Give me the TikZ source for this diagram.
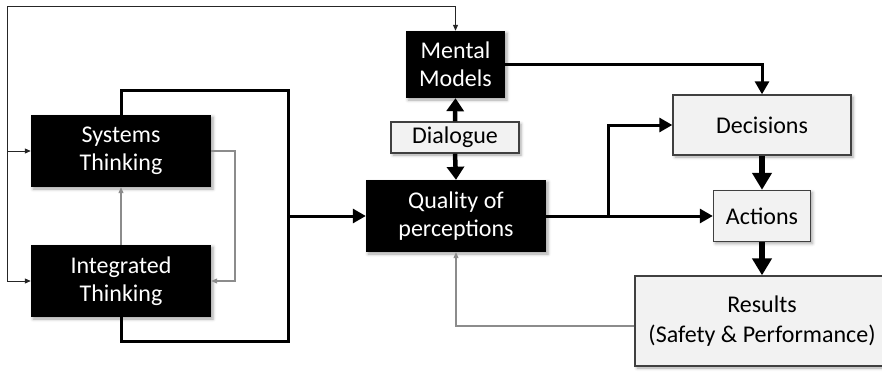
\documentclass[tikz,border=0pt]{standalone}
\usepackage{fontspec}
\setmainfont{Carlito}
\usetikzlibrary{arrows.meta,shadows.blur}

\begin{document}
\begin{tikzpicture}[x=1pt,y=-1pt,
  box/.style={rectangle,inner sep=0pt,align=center,
    font=\fontsize{24}{28}\selectfont,
    blur shadow={shadow xshift=2pt,shadow yshift=-2pt,shadow blur radius=3pt,shadow opacity=35}},
  darkbox/.style={box,fill=black,text=white},
  lightbox/.style={box,fill=black!5,draw=black!75,line width=1.4pt},
  thickline/.style={line width=3pt,black},
  thickarrow/.style={thickline,-{Triangle[length=13pt,width=14pt]}},
  dialarrow/.style={line width=4.5pt,black,-{Triangle[length=13pt,width=17pt]}},
  bigarrow/.style={line width=5.5pt,black,-{Triangle[length=17pt,width=19pt]}},
  thinarrow/.style={line width=1pt,black!85,-{Triangle[length=6pt,width=5pt]}},
  grayarrow/.style={line width=1.1pt,black!45,-{Triangle[length=6pt,width=5pt]}},
]
\useasboundingbox (0,0) rectangle (882,377);
\clip (0,0) rectangle (882,377);

% boxes
\node[darkbox,minimum width=180pt,minimum height=72pt] (sys) at (121,151) {Systems\\Thinking};
\node[darkbox,minimum width=180pt,minimum height=72pt] (int) at (121,281) {Integrated\\Thinking};
\node[darkbox,minimum width=99pt,minimum height=67pt] (mental) at (455.5,64.5) {Mental\\Models};
\node[lightbox,minimum width=128pt,minimum height=31pt] (dia) at (455,137.5) {Dialogue};
\node[darkbox,minimum width=180pt,minimum height=72pt] (qual) at (456,216) {Quality of\\perceptions};
\node[lightbox,minimum width=178pt,minimum height=60pt] (dec) at (762,125) {Decisions};
\node[lightbox,minimum width=97pt,minimum height=51pt] (act) at (762,216) {Actions};
\node[lightbox,minimum width=254pt,minimum height=90pt,font=\fontsize{24}{30}\selectfont] (res) at (762,321) {Results\\(Safety \& Performance)};

% helper points
\coordinate (corner) at (7,7);
\coordinate (bt) at (288,91);
\coordinate (bb) at (288,341);
\coordinate (bm) at (288,216);
\coordinate (split) at (608,216);
\coordinate (loop) at (235,151);

% outer thin feedback
\draw[thinarrow] (corner) -| (mental.north);
\draw[thinarrow] (corner) |- (sys.west);
\draw[thinarrow] (corner) |- (int.west);

% gray links between the thinking boxes
\draw[grayarrow] (sys.east) -- (loop) |- (int.east);
\draw[grayarrow] (int.north) -- (sys.south);

% thick bracket into quality of perceptions
\draw[thickline] (sys.north) |- (bt) -- (bb) -| (int.south);
\draw[thickarrow] (bm) -- (qual.west);

% dialogue
\draw[dialarrow] (dia.north) -- (mental.south);
\draw[dialarrow] (dia.south) -- (qual.north);

% to decisions and actions
\draw[thickarrow] (mental.east) -| (dec.north);
\draw[thickarrow] (qual.east) -- (act.west);
\draw[thickarrow] (split) |- (dec.west);
\draw[bigarrow] (dec.south) -- (act.north);
\draw[bigarrow] (act.south) -- (res.north);

% results feedback
\draw[grayarrow] ([yshift=-5pt]res.west) -| (qual.south);
\end{tikzpicture}
\end{document}
